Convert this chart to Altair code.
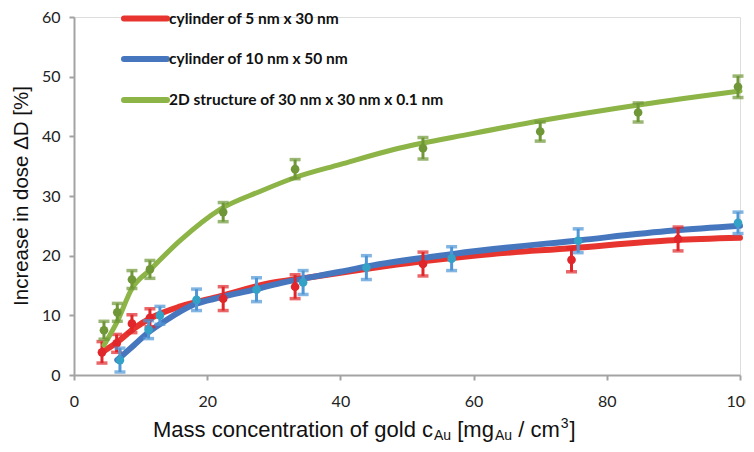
import altair as alt
import pandas as pd

# ---------------- data ----------------
series_names = ["cylinder of 5 nm x 30 nm",
                "cylinder of 10 nm x 50 nm",
                "2D structure of 30 nm x 30 nm x 0.1 nm"]

red_x = [4.2, 6.4, 8.7, 11.4, 22.4, 33.2, 52.4, 74.7, 90.7]
red_y = [3.8, 5.3, 8.6, 9.6, 12.8, 14.8, 18.6, 19.3, 22.8]
red_err = [1.8, 1.5, 1.5, 1.5, 2.0, 2.0, 2.0, 2.0, 2.0]

blue_x = [6.9, 11.2, 12.9, 18.4, 27.4, 34.4, 43.9, 56.7, 75.7, 99.7]
blue_y = [2.5, 7.6, 10.0, 12.6, 14.3, 15.5, 18.0, 19.5, 22.5, 25.5]
blue_err = [2.0, 1.5, 1.5, 1.8, 2.0, 2.0, 2.0, 2.0, 2.0, 1.8]

green_x = [4.5, 6.5, 8.7, 11.4, 22.4, 33.2, 52.4, 70.0, 84.7, 99.7]
green_y = [7.5, 10.5, 16.0, 17.7, 27.3, 34.5, 38.0, 40.8, 44.0, 48.3]
green_err = [1.5, 1.5, 1.5, 1.5, 1.6, 1.6, 1.8, 1.6, 1.6, 1.8]

red_fit_x = [4.2, 6.5, 9, 12, 16, 22, 29, 35, 44, 52, 60, 75, 90, 100]
red_fit_y = [3.8, 5.5, 7.8, 9.8, 11.5, 13.2, 15.3, 16.3, 17.8, 19.0, 20.0, 21.3, 22.6, 23.0]

blue_fit_x = [6.5, 9, 11, 14, 18, 22, 27, 31, 40, 44, 57, 76, 90, 100]
blue_fit_y = [2.5, 5.0, 7.0, 9.3, 11.8, 13.0, 14.3, 15.4, 17.3, 18.2, 20.3, 22.6, 24.2, 25.0]

green_fit_x = [4.5, 6.5, 8.7, 11.4, 16, 22, 28, 33.2, 40, 48, 60, 70, 85, 100]
green_fit_y = [5.0, 9.0, 14.5, 17.6, 22.6, 27.8, 30.8, 33.1, 35.3, 37.8, 40.5, 42.6, 45.3, 47.6]

x_ticks = [0, 20, 40, 60, 80, 100]
y_ticks = [0, 10, 20, 30, 40, 50, 60]

# ---------------- styling ----------------
RED_LINE, RED_PT = "#e8342f", "#e0262a"
BLUE_LINE, BLUE_BAR, BLUE_PT = "#4677be", "#4f96d6", "#33a2c6"
GREEN_LINE, GREEN_PT = "#8cb446", "#6f9738"
AXIS_C = "#a3a3a3"

W, H = 666, 358

xscale = alt.Scale(domain=[0, 100], nice=False, zero=False)
yscale = alt.Scale(domain=[0, 60], nice=False)
xaxis = alt.Axis(values=x_ticks, grid=False, domainColor=AXIS_C, domainWidth=2,
                 tickColor=AXIS_C, tickWidth=2, tickSize=5, labelFont="Lato",
                 labelFontSize=16, labelColor="#222222", labelPadding=13,
                 labelFlush=False, labelOverlap=False, labelBound=False, title=None)
yaxis = alt.Axis(values=y_ticks, grid=False, domainColor=AXIS_C, domainWidth=2,
                 tickColor=AXIS_C, tickWidth=2, tickSize=5, labelFont="Lato",
                 labelFontSize=16, labelColor="#222222", labelPadding=9,
                 labelOverlap=False, labelBound=False, title=None)


def X(field):
    return alt.X(field, type="quantitative", scale=xscale, axis=xaxis)


def Y(field):
    return alt.Y(field, type="quantitative", scale=yscale, axis=yaxis)


def pts_df(xs, ys, es):
    return pd.DataFrame({"x": xs, "y": ys,
                         "lo": [y - e for y, e in zip(ys, es)],
                         "hi": [y + e for y, e in zip(ys, es)]})


def fit_df(xs, ys):
    return pd.DataFrame({"x": xs, "y": ys})


def line_layer(xs, ys, color, width):
    return alt.Chart(fit_df(xs, ys)).mark_line(
        color=color, strokeWidth=width, interpolate="monotone", strokeCap="round"
    ).encode(x=X("x"), y=Y("y"))


def err_layers(xs, ys, es, bar_color, pt_color):
    d = pts_df(xs, ys, es)
    base = alt.Chart(d)
    rule = base.mark_rule(color=bar_color, strokeWidth=3).encode(
        x=X("x"), y=Y("lo"), y2="hi")
    cap_lo = base.mark_tick(color=bar_color, orient="horizontal", size=11,
                            thickness=3.5).encode(x=X("x"), y=Y("lo"))
    cap_hi = base.mark_tick(color=bar_color, orient="horizontal", size=11,
                            thickness=3.5).encode(x=X("x"), y=Y("hi"))
    pt = base.mark_circle(color=pt_color, size=75, opacity=1).encode(
        x=X("x"), y=Y("y"))
    return [rule, cap_lo, cap_hi, pt]


layers = []
layers.append(line_layer(red_fit_x, red_fit_y, RED_LINE, 6))
layers.append(line_layer(blue_fit_x, blue_fit_y, BLUE_LINE, 6))
layers += err_layers(red_x, red_y, red_err, RED_PT, RED_PT)
layers += err_layers(blue_x, blue_y, blue_err, BLUE_BAR, BLUE_PT)
layers.append(line_layer(green_fit_x, green_fit_y, GREEN_LINE, 5))
layers += err_layers(green_x, green_y, green_err, GREEN_PT, GREEN_PT)

# ---------------- legend (manual, inside plot) ----------------
leg_colors = [RED_LINE, BLUE_LINE, GREEN_LINE]
leg_rows = [1.5, 42, 83]
one = pd.DataFrame({"k": [0]})
for name, col, yy in zip(series_names, leg_colors, leg_rows):
    layers.append(alt.Chart(one).mark_rule(color=col, strokeWidth=6, strokeCap="round").encode(
        x=alt.value(50), x2=alt.value(93), y=alt.value(yy)))
    layers.append(alt.Chart(one).mark_text(
        text=name, font="Lato", fontSize=15.5, fontWeight="bold", color="#111111",
        align="left", baseline="middle").encode(x=alt.value(95), y=alt.value(yy)))

# ---------------- axis titles (manual, with sub/superscripts) ----------------
ARIAL = {"M": 833, "a": 556, "s": 500, " ": 278, "c": 500, "o": 556, "n": 556,
         "e": 556, "t": 278, "r": 333, "i": 222, "f": 278, "g": 556, "l": 222,
         "d": 556, "[": 278, "m": 833, "/": 278, "]": 278, "A": 667, "u": 556,
         "3": 556}


def tw(s, size):
    return sum(ARIAL.get(ch, 556) for ch in s) * size / 1000.0


MAIN, SUB = 22, 14
# (text, font size, baseline shift, gap before in px)
pieces = [("Mass concentration of gold c", MAIN, 0, 0),
          ("Au", SUB, 3, 1),
          ("[mg", MAIN, 0, tw(" ", MAIN)),
          ("Au", SUB, 3, 1),
          ("/", MAIN, 0, tw(" ", MAIN)),
          ("cm", MAIN, 0, tw(" ", MAIN)),
          ("3", SUB, -9, 1),
          ("]", MAIN, 0, 1)]
base_y = H + 62
cx = 79
for txt, size, dy, gap in pieces:
    cx += gap
    layers.append(alt.Chart(one).mark_text(
        text=txt, font="Liberation Sans", fontSize=size, color="#111111",
        align="left", baseline="alphabetic").encode(
        x=alt.value(cx), y=alt.value(base_y + dy)))
    cx += tw(txt, size)

layers.append(alt.Chart(one).mark_text(
    text="Increase in dose ΔD [%]", font="Liberation Sans", fontSize=20.5,
    color="#111111", angle=270, align="center", baseline="middle").encode(
    x=alt.value(-52), y=alt.value(H / 2)))

chart = alt.layer(*layers).properties(
    width=W, height=H,
    autosize=alt.AutoSizeParams(type="none"),
    padding={"left": 66, "top": 9, "right": 6, "bottom": 69},
).configure_view(stroke=None).configure(background="white")

chart.save("out.html", embed_options={"renderer": "svg", "actions": False})
